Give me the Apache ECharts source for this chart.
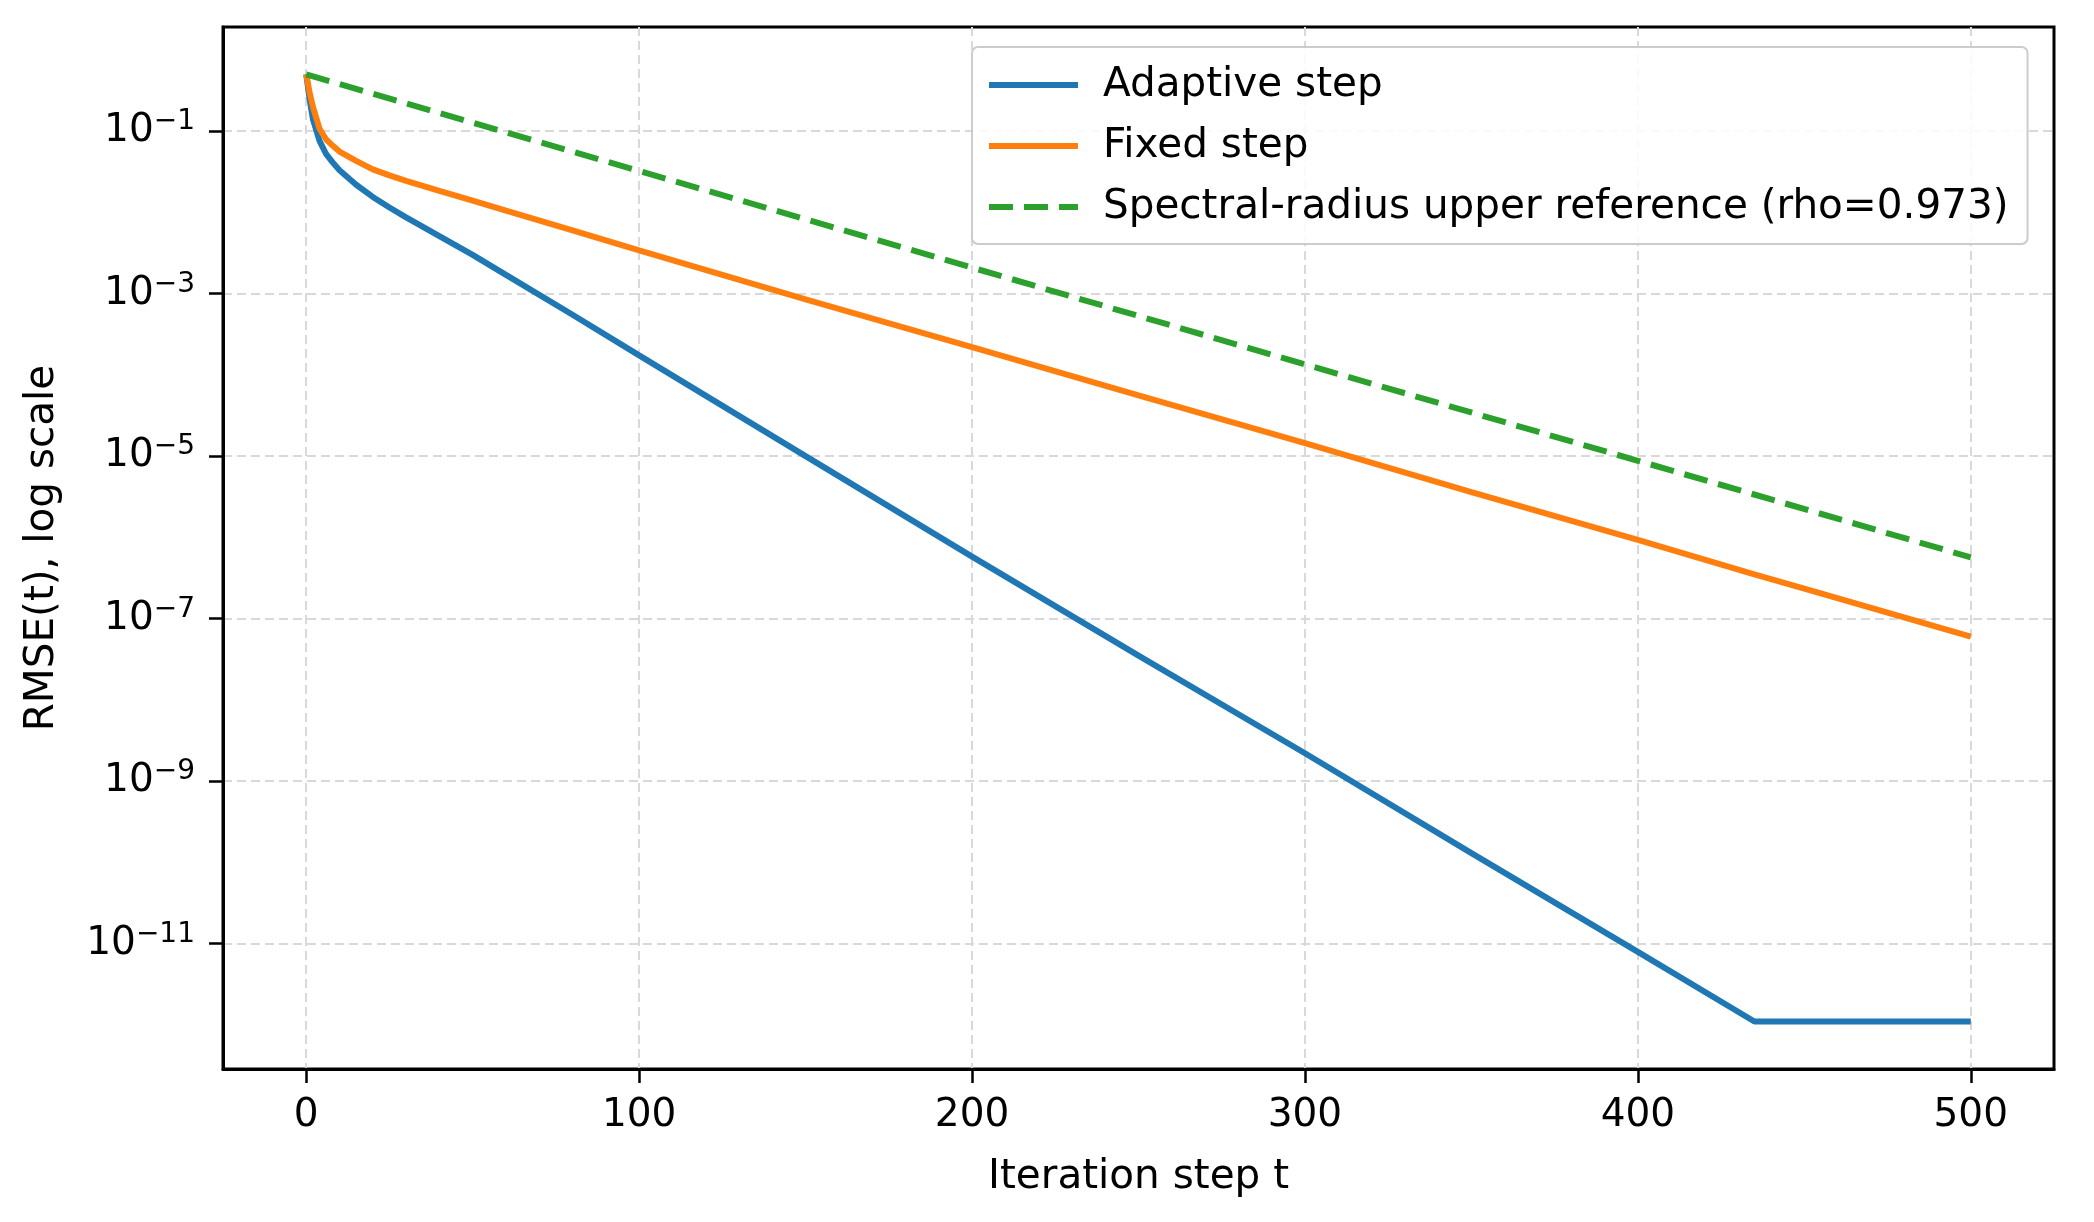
<!DOCTYPE html>
<html>

<head>
    <meta charset='UTF-8'>
    <script src="https://cdn.jsdelivr.net/npm/echarts@6.0.0/dist/echarts.min.js"></script>
    <title>RMSE</title>
    <style>
        html, body {
            margin: 0;
            padding: 0;
            background: #ffffff;
        }
        #chart {
            width: 2094px;
            height: 1222px;
        }
    </style>
</head>

<body>
    <div id="chart"></div>

    <script>
        // iteration steps
        var steps = [0, 1, 2, 4, 6, 8, 10, 15, 20, 25, 30, 40, 50, 60, 80, 100, 150, 200, 250, 300, 350, 400, 435, 450, 500];
        var adaptive = [0.5, 0.25, 0.141, 0.076, 0.052, 0.041, 0.033, 0.0219, 0.0155, 0.0115, 8.7e-3, 5.1e-3, 3.0e-3, 1.70e-3,
            5.5e-4, 1.74e-4, 1.0e-5, 5.8e-7, 3.5e-8, 2.2e-9, 1.3e-10, 7.9e-12, 1.1e-12, 1.1e-12, 1.1e-12];
        var fixed = [0.5, 0.30, 0.20, 0.107, 0.079, 0.066, 0.056, 0.043, 0.0339, 0.0285, 0.0245, 0.0184, 0.0140, 0.0105,
            6.0e-3, 3.4e-3, 8.5e-4, 2.19e-4, 5.6e-5, 1.45e-5, 3.6e-6, 9.3e-7, 3.5e-7, 2.34e-7, 6.0e-8];
        // spectral-radius reference line
        var refSteps = [0, 100, 200, 300, 400, 500];
        var reference = [0.5, 0.0324, 2.09e-3, 1.35e-4, 8.77e-6, 5.68e-7];

        var xTicks = [0, 100, 200, 300, 400, 500];
        var yTicks = [1e-1, 1e-3, 1e-5, 1e-7, 1e-9, 1e-11];
        var yExp = ['\u22121', '\u22123', '\u22125', '\u22127', '\u22129', '\u221211'];

        function pairs(xs, ys) {
            var out = [];
            for (var i = 0; i < xs.length; i++) out.push([xs[i], ys[i]]);
            return out;
        }

        var font = 'DejaVu Sans';
        var gridLine = {
            show: true,
            lineStyle: { color: '#d9d9d9', width: 2, type: [9, 5] }
        };

        var myChart = echarts.init(document.getElementById('chart'), null, { renderer: 'canvas' });

        var option = {
            animation: false,
            backgroundColor: '#ffffff',
            textStyle: { fontFamily: font, color: '#000000' },
            grid: {
                left: 223,
                top: 27,
                right: 40,
                bottom: 153,
                show: true,
                borderColor: '#000000',
                borderWidth: 3,
                backgroundColor: 'transparent',
                containLabel: false
            },
            legend: {
                orient: 'vertical',
                left: 972,
                top: 47,
                padding: [16, 19, 15, 14],
                itemWidth: 89,
                itemHeight: 14,
                itemGap: 17,
                backgroundColor: 'rgba(255,255,255,0.85)',
                borderColor: '#cccccc',
                borderWidth: 2,
                borderRadius: 6,
                itemStyle: { opacity: 0 },
                lineStyle: { width: 6 },
                textStyle: {
                    fontFamily: font,
                    fontSize: 40.5,
                    lineHeight: 44,
                    color: '#000000',
                    padding: [0, 0, 0, 20]
                },
                data: ['Adaptive step', 'Fixed step', 'Spectral-radius upper reference (rho=0.973)']
            },
            xAxis: {
                type: 'value',
                min: -25,
                max: 525,
                name: 'Iteration step t',
                nameLocation: 'middle',
                nameGap: 88,
                nameTextStyle: { fontFamily: font, fontSize: 40.5, color: '#000000' },
                axisLine: { show: true, onZero: false, lineStyle: { color: '#000000', width: 3 } },
                axisTick: {
                    show: true,
                    length: 14,
                    lineStyle: { color: '#000000', width: 2.5 },
                    customValues: xTicks
                },
                axisLabel: {
                    margin: 27,
                    fontFamily: font,
                    fontSize: 39,
                    color: '#000000',
                    customValues: xTicks
                },
                splitLine: gridLine
            },
            yAxis: {
                type: 'log',
                logBase: 10,
                min: 2.86e-13,
                max: 1.914,
                name: 'RMSE(t), log scale',
                nameLocation: 'middle',
                nameGap: 160,
                nameTextStyle: { fontFamily: font, fontSize: 40.5, color: '#000000' },
                axisLine: { show: true, onZero: false, lineStyle: { color: '#000000', width: 3 } },
                axisTick: {
                    show: true,
                    length: 14,
                    lineStyle: { color: '#000000', width: 2.5 },
                    customValues: yTicks
                },
                axisLabel: {
                    margin: 28,
                    customValues: yTicks,
                    formatter: function (v) {
                        var k = yTicks.indexOf(v);
                        if (k < 0) {
                            k = Math.round((-Math.log10(v) - 1) / 2);
                        }
                        return '{b|10}{s|' + yExp[k] + '}';
                    },
                    rich: {
                        b: { fontFamily: font, fontSize: 39, lineHeight: 46, color: '#000000' },
                        s: { fontFamily: font, fontSize: 28, lineHeight: 24, verticalAlign: 'top', color: '#000000' }
                    }
                },
                splitLine: gridLine,
                minorTick: { show: false },
                minorSplitLine: { show: false }
            },
            series: [{
                name: 'Adaptive step',
                type: 'line',
                data: pairs(steps, adaptive),
                showSymbol: false,
                symbol: 'none',
                color: '#1f77b4',
                lineStyle: { width: 6, color: '#1f77b4' },
                z: 3
            }, {
                name: 'Fixed step',
                type: 'line',
                data: pairs(steps, fixed),
                showSymbol: false,
                symbol: 'none',
                color: '#ff7f0e',
                lineStyle: { width: 6, color: '#ff7f0e' },
                z: 4
            }, {
                name: 'Spectral-radius upper reference (rho=0.973)',
                type: 'line',
                data: pairs(refSteps, reference),
                showSymbol: false,
                symbol: 'none',
                color: '#2ca02c',
                lineStyle: { width: 6, color: '#2ca02c', type: [24, 11] },
                z: 5
            }]
        };

        myChart.setOption(option);
        window.addEventListener('resize', myChart.resize);
    </script>
</body>

</html>
